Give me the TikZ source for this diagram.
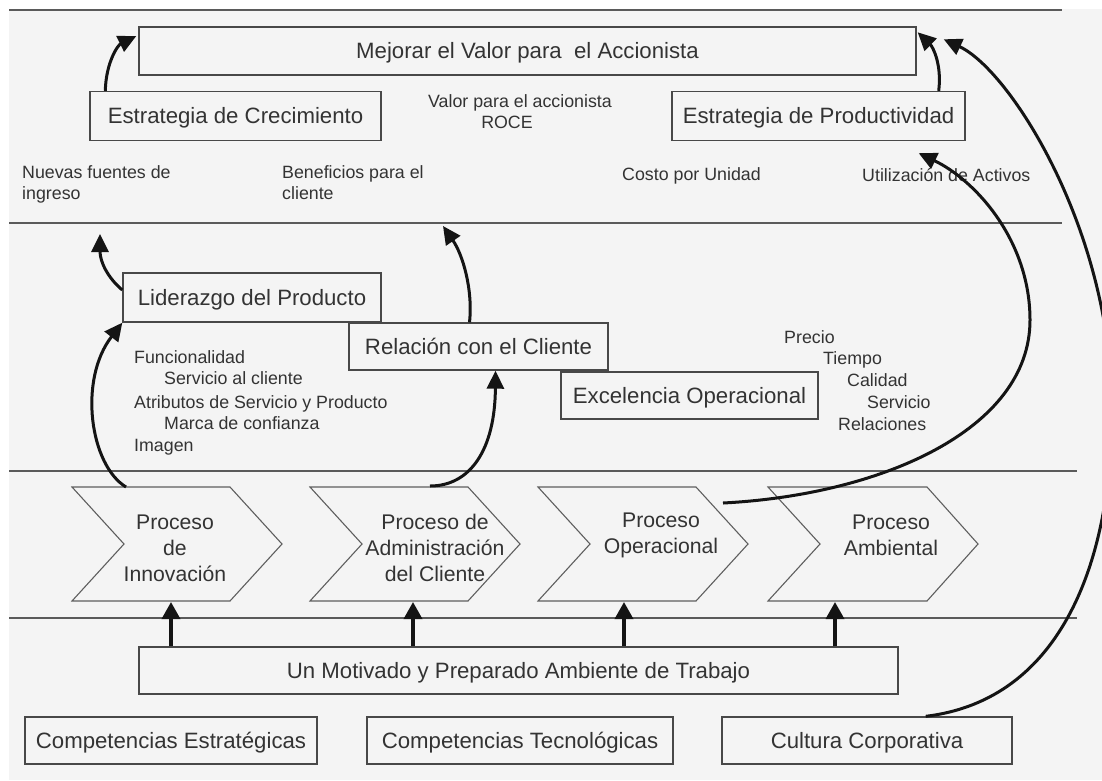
\documentclass[tikz,border=0pt]{standalone}
\usepackage{fontspec}
\setmainfont{Liberation Sans}
\usetikzlibrary{arrows.meta}
\definecolor{bgc}{HTML}{F4F4F4}
\definecolor{ink}{HTML}{333333}
\definecolor{boxc}{HTML}{484848}
\definecolor{rulec}{HTML}{5A5A5A}
\definecolor{chevc}{HTML}{5E5E5E}
\definecolor{arrc}{HTML}{141414}
\newcommand\fbig{\fontsize{22.2}{26}\selectfont}
\newcommand\fsmall{\fontsize{17.8}{21}\selectfont}
\newcommand\fchev{\fontsize{21.2}{26}\selectfont}
\begin{document}
\begin{tikzpicture}[x=1pt,y=-1pt,
  box/.style={draw=boxc, line width=1.4pt, inner sep=0pt, text=ink, font=\fbig, text height=15.8pt, text depth=0pt},
  lbl/.style={text=ink, font=\fsmall, inner sep=0pt, anchor=base west},
  clbl/.style={text=ink, font=\fsmall, inner sep=0pt, anchor=base},
  chevtxt/.style={text=ink, font=\fchev, inner sep=0pt, align=center},
  chev/.style={draw=chevc, line width=1.1pt, line join=miter},
  rulel/.style={draw=rulec, line width=1.4pt},
  conn/.style={draw=arrc, line width=3pt, -{Triangle[length=18pt,width=17pt]}},
  upconn/.style={draw=arrc, line width=3.5pt, -{Triangle[length=17pt,width=18pt]}}
]
\useasboundingbox (0,0) rectangle (1102,780);
\fill[white] (0,0) rectangle (1102,780);
\fill[bgc] (9,9) rectangle (1102,780);

% horizontal rules
\draw[rulel] (9,10) -- (1062,10);
\draw[rulel] (9,223) -- (1062,223);
\draw[rulel] (9,471) -- (1077,471);
\draw[rulel] (9,618) -- (1077,618);

% top boxes
\node[box, minimum width=777pt, minimum height=48pt] (mej) at (527.5,51) {Mejorar el Valor para\ \ el Accionista};
\node[box, minimum width=291pt, minimum height=49pt] (crec) at (235.5,116) {Estrategia de Crecimiento};
\node[box, minimum width=293pt, minimum height=49pt] (prod) at (818.5,116) {Estrategia de Productividad};

\node[clbl] (valor) at (520,107) {Valor para el accionista};
\node[clbl] (roce) at (507,128) {ROCE};

\node[lbl] (nuevas1) at (22,178) {Nuevas fuentes de};
\node[lbl] (nuevas2) at (22,199) {ingreso};
\node[lbl] (benef1) at (282,178) {Beneficios para el};
\node[lbl] (benef2) at (282,199) {cliente};
\node[lbl] (costo) at (622,180) {Costo por Unidad};
\node[lbl] (util) at (862,181) {Utilización de Activos};

% middle boxes
\node[box, minimum width=258pt, minimum height=49pt] (lid) at (252,297.5) {Liderazgo del Producto};
\node[box, minimum width=259pt, minimum height=47pt] (rel) at (478.5,346.5) {Relación con el Cliente};
\node[box, minimum width=257pt, minimum height=47pt] (exc) at (689.5,395.5) {Excelencia Operacional};

\node[lbl] (f1) at (134,363) {Funcionalidad};
\node[lbl] (f2) at (164,384) {Servicio al cliente};
\node[lbl] (f3) at (134,408) {Atributos de Servicio y Producto};
\node[lbl] (f4) at (164,429) {Marca de confianza};
\node[lbl] (f5) at (134,451) {Imagen};

\node[lbl] (p1) at (784,343) {Precio};
\node[lbl] (p2) at (823,364) {Tiempo};
\node[lbl] (p3) at (847,386) {Calidad};
\node[lbl] (p4) at (867,408) {Servicio};
\node[lbl] (p5) at (838,430) {Relaciones};

% chevrons
\draw[chev] (72,487) -- (230,487) -- (282,544) -- (230,601) -- (72,601) -- (124,544) -- cycle;
\draw[chev] (310,487) -- (468,487) -- (520,544) -- (468,601) -- (310,601) -- (362,544) -- cycle;
\draw[chev] (538,487) -- (696,487) -- (748,544) -- (696,601) -- (538,601) -- (590,544) -- cycle;
\draw[chev] (768,487) -- (927,487) -- (978,544) -- (927,601) -- (768,601) -- (820,544) -- cycle;
\node[chevtxt] (ch1) at (175,548) {Proceso\\de\\Innovación};
\node[chevtxt] (ch2) at (435,548) {Proceso de\\Administración\\del Cliente};
\node[chevtxt] (ch3) at (661,535) {Proceso\\Operacional};
\node[chevtxt] (ch4) at (891,535) {Proceso\\Ambiental};

\coordinate (c1t) at (126,487);
\coordinate (c2t) at (430,486);
\coordinate (c3o) at (723,503);
\coordinate (c1b) at (171,602);
\coordinate (c2b) at (413,602);
\coordinate (c3b) at (624,602);
\coordinate (c4b) at (835,602);
\coordinate (n1) at (100,234);
\coordinate (n2) at (443,226);

% bottom boxes
\node[box, minimum width=759pt, minimum height=47pt] (mot) at (518.5,670.5) {Un Motivado y Preparado Ambiente de Trabajo};
\node[box, minimum width=292pt, minimum height=47pt] (ce) at (171,740.5) {Competencias Estratégicas};
\node[box, minimum width=306pt, minimum height=47pt] (ct) at (520,740.5) {Competencias Tecnológicas};
\node[box, minimum width=290pt, minimum height=47pt] (cc) at (867,740.5) {Cultura Corporativa};

% connectors
\draw[upconn] (mot.north -| c1b) -- (c1b);
\draw[upconn] (mot.north -| c2b) -- (c2b);
\draw[upconn] (mot.north -| c3b) -- (c3b);
\draw[upconn] (mot.north -| c4b) -- (c4b);

\draw[conn] ([xshift=16pt]crec.north west) .. controls (106,62) and (118,45) .. ([xshift=-2pt,yshift=15pt]mej.west);
\draw[conn] ([xshift=-27pt]prod.north east) .. controls (942,65) and (933,47) .. ([xshift=1pt,yshift=-6pt]mej.north east);
\draw[conn] ([xshift=-87pt]cc.north east) .. controls (1062,700) and (1112,560) .. (1112,410) .. controls (1112,230) and (1010,70) .. ([xshift=27pt,yshift=-13pt]mej.north east);
\draw[conn] (c3o) .. controls (880,495) and (1030,430) .. (1030,320) .. controls (1030,240) and (975,180) .. ([xshift=-47pt,yshift=-12pt]prod.south east);
\draw[conn] (c1t) .. controls (90,465) and (78,380) .. (lid.south west);
\draw[conn] ([yshift=7.5pt]lid.west) .. controls (108,278) and (100,262) .. (n1);
\draw[conn] (c2t) .. controls (470,486) and (495,450) .. ([xshift=17pt]rel.south);
\draw[conn] ([xshift=-9pt]rel.north) .. controls (473,290) and (463,255) .. (n2);
\end{tikzpicture}
\end{document}
